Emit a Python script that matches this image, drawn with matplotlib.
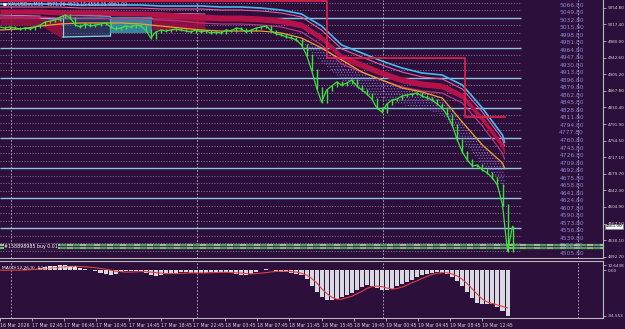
import numpy as np
import matplotlib
matplotlib.use("Agg")
import matplotlib.pyplot as plt
import matplotlib.transforms as mtransforms

BG = "#2d0f3b"
GREEN = "#3ee03e"
SKY = "#4cb8f0"
PINK = "#e0609a"
CRIMSON = "#b5124a"
MAGENTA = "#c0307a"
ORANGE = "#f0a030"
RED = "#e8204a"
LEVEL_SOLID = "#8ec4e0"
LEVEL_DOT = "#b8a8d8"
LEVEL_TXT = "#8a86d6"
AXTXT = "#d4d4d8"
HIST = "#d8d8e0"

plt.rcParams.update({"hatch.linewidth": 0.5, "font.family": "DejaVu Sans"})

# ---------------------------------------------------------------- data
# close price, one sample every 2.5 bars (M15)
close = [5011.7, 5009.4, 5011.7, 5009.4, 5007.2, 5009.4, 5007.2, 5011.7, 5016.2, 5023.0,
         5025.2, 5027.5, 5034.3, 5038.8, 5032.0, 5016.2, 5011.7, 5018.5, 5013.9, 5016.2,
         5018.5, 5020.7, 5011.7, 5007.2, 5009.4, 5013.9, 5011.7, 5016.2, 5013.9, 5004.9,
         4986.8, 5000.4, 5004.9, 5002.6, 5004.9, 5007.2, 5004.9, 5002.6, 5000.4, 5004.9,
         5000.4, 5002.6, 4998.1, 5000.4, 4998.1, 5004.9, 5002.6, 5009.4, 5007.2, 5000.4,
         5004.9, 5009.4, 5011.7, 5013.9, 5002.6, 4995.9, 4993.6, 4989.1, 4986.8, 4982.3,
         4971.0, 4948.4, 4914.5, 4873.8, 4842.2, 4869.3, 4878.3, 4887.4, 4880.6, 4885.1,
         4891.9, 4878.3, 4869.3, 4860.3, 4849.0, 4828.6, 4819.6, 4837.7, 4846.7, 4849.0,
         4855.7, 4858.0, 4860.3, 4862.5, 4855.7, 4851.2, 4846.7, 4837.7, 4828.6, 4812.8,
         4790.2, 4756.3, 4729.2, 4711.1, 4697.5, 4699.8, 4688.5, 4681.7, 4670.4, 4654.6,
         4609.4, 4505.0, 4561.0]

# moving-average ribbon, sampled every 10 bars
band_x = [0, 10, 20, 30, 40, 50, 60, 70, 80, 90, 100, 110, 120, 130, 140, 150, 160,
          170, 180, 190, 200, 210, 220, 230, 240, 250, 251]
blue_line = [5063.7, 5063.7, 5063.7, 5063.7, 5061.4, 5061.4, 5061.4, 5061.4, 5059.1,
             5059.1, 5059.1, 5056.9, 5056.9, 5054.6, 5050.1, 5041.1, 5013.9, 4971.0,
             4952.9, 4934.8, 4919.0, 4907.7, 4903.2, 4880.6, 4828.6, 4767.6, 4751.8]
pink_line = [5056.9, 5056.9, 5056.9, 5056.9, 5054.6, 5054.6, 5054.6, 5054.6, 5052.4,
             5052.4, 5052.4, 5050.1, 5050.1, 5047.8, 5043.3, 5034.3, 5004.9, 4962.0,
             4943.9, 4925.8, 4910.0, 4898.7, 4894.2, 4871.6, 4819.6, 4758.6, 4742.7]
ribbon_hi = [5052.4, 5052.4, 5052.4, 5050.1, 5050.1, 5050.1, 5047.8, 5047.8, 5045.6,
             5043.3, 5041.1, 5038.8, 5038.8, 5036.5, 5032.0, 5023.0, 4993.6, 4950.7,
             4932.6, 4914.5, 4898.7, 4889.6, 4885.1, 4862.5, 4810.5, 4749.5, 4733.7]
ribbon_lo = [5041.1, 5041.1, 5041.1, 5038.8, 5038.8, 5038.8, 5036.5, 5036.5, 5034.3,
             5032.0, 5027.5, 5025.2, 5025.2, 5023.0, 5018.5, 5009.4, 4980.0, 4937.1,
             4919.0, 4900.9, 4885.1, 4876.1, 4871.6, 4849.0, 4796.9, 4736.0, 4722.4]
magenta_line = [5034.3, 5034.3, 5034.3, 5032.0, 5032.0, 5032.0, 5029.8, 5029.8, 5027.5,
                5025.2, 5020.7, 5018.5, 5018.5, 5016.2, 5011.7, 5000.4, 4971.0, 4928.1,
                4910.0, 4891.9, 4876.1, 4867.0, 4862.5, 4839.9, 4787.9, 4726.9, 4713.4]
orange_line = [5004.9, 5007.2, 5013.9, 5018.5, 5020.7, 5020.7, 5020.7, 5018.5, 5013.9,
               5009.4, 5004.9, 5002.6, 5002.6, 5002.6, 4998.1, 4986.8, 4964.2, 4937.1,
               4910.0, 4891.9, 4873.8, 4864.8, 4851.2, 4796.9, 4745.0, 4704.3, 4693.0]
# dotted lower band (from bar 150 on)
lower_x = [150, 160, 170, 180, 190, 200, 210, 220, 230, 240, 250, 251]
lower_top = [4986.8, 4964.2, 4937.1, 4910.0, 4891.9, 4873.8, 4864.8, 4851.2, 4796.9,
             4745.0, 4704.3, 4693.0]
lower_bot = [4971.0, 4932.6, 4891.9, 4864.8, 4846.7, 4835.4, 4828.6, 4812.8, 4756.3,
             4699.8, 4654.6, 4643.3]

# cloud boxes at the start of the chart
cloud_x0 = [0, 19.9, 31.3, 54.7, 75.6]
cloud_x1 = [19.9, 30.8, 54.7, 75.6, 102.0]
cloud_hi0 = [5038.8, 5032.0, 5038.8, 5034.3, 5043.3]
cloud_hi1 = [5036.5, 5027.5, 5036.5, 5034.3, 5041.1]
cloud_lo0 = [5016.2, 5016.2, 4989.1, 4998.1, 5004.9]
cloud_lo1 = [5016.2, 4986.8, 4991.3, 4998.1, 5002.6]
cloud_kind = ["bear", "bear", "bull_open", "bull", "bear"]

# trailing stop steps
stop_x = [0, 162.7, 231.3, 251.2]
stop_v = [5070.5, 4941.0, 4808.0, 4808.0]

levels = [5066.8, 5049.8, 5032.8, 5015.8, 4998.8, 4981.8, 4964.8, 4947.8, 4930.8,
          4913.8, 4896.8, 4879.8, 4862.8, 4845.8, 4828.8, 4811.8, 4794.8, 4777.8,
          4760.8, 4743.8, 4726.8, 4709.8, 4692.8, 4675.8, 4658.8, 4641.8, 4624.8,
          4607.8, 4590.8, 4573.8, 4556.8, 4539.8, 4522.8, 4505.8]
solid_levels = [5032.8, 4964.8, 4896.8, 4828.8, 4760.8, 4692.8, 4624.8, 4556.8]
order_levels = [4520.0, 4511.5]

price_ticks = [5054.80, 5017.40, 4980.00, 4942.60, 4905.20, 4867.80, 4830.40, 4791.90,
               4754.50, 4717.10, 4679.70, 4642.30, 4604.90, 4567.50, 4530.10, 4492.70]
last_price = 4561.00
day_sep = [5.5, 98.0, 190.5, 287.6]

hist = [0.5, 0, -0.5, 0.5, 1, 1.5, 2, 3, 5, 7,
        8.5, 9.5, 10.6, 10.2, 9, 7, 4, 2, 0, -2,
        -5, -8, -9, -7, -4, -2, -1, -1, -2, -5,
        -9, -12, -11, -8, -6, -5, -4, -4, -5, -5,
        -6, -5, -4, -3, -3, -4, -6, -8, -10, -11,
        -8, -4, 0, 2, 1, -1, -3, -4, -5, -7,
        -10, -18, -32, -45, -56, -61, -62, -60, -56, -52,
        -48, -42, -34, -30, -32, -36, -40, -41, -38, -33,
        -28, -24, -20, -15, -10, -7, -5, -4, -5, -8,
        -14, -22, -32, -45, -58, -67, -70, -70, -71, -76,
        -84, -94.5]
signal = [0, 0, 0, 0, 0, 0.5, 1, 1.5, 2, 3,
          4, 5, 6, 7, 7.5, 8, 7.5, 7, 6, 5,
          3.5, 2, 0, -2, -3, -4, -4, -3.5, -3, -3,
          -4, -5, -6, -7, -7, -7, -6.5, -6, -5.5, -5.5,
          -5.5, -5.5, -5, -5, -4.5, -4.5, -5, -5.5, -6, -7,
          -7.5, -7, -6, -5, -3.5, -2.5, -2, -2.5, -3, -4,
          -6.5, -10, -17, -26, -38, -48, -56, -60, -60, -57,
          -54, -49, -44, -38, -34, -33, -34, -37, -39, -38,
          -35, -31, -26, -22, -17, -13, -9, -6.5, -5, -5.5,
          -8, -12, -19, -28, -39, -50, -60, -66, -69, -72,
          -75, -78]
macd_ticks = [10.6438, 0.0, -94.553]
macd_tick_labels = ["10.6438", "0.00", "-94.553"]

time_ticks = [0, 16, 32, 48, 64, 80, 96, 112, 128, 144, 160, 176, 192, 208, 224, 240]
time_labels = ["16 Mar 2026", "17 Mar 02:45", "17 Mar 06:45", "17 Mar 10:45",
               "17 Mar 14:45", "17 Mar 18:45", "17 Mar 22:45", "18 Mar 03:45",
               "18 Mar 07:45", "18 Mar 11:45", "18 Mar 15:45", "18 Mar 19:45",
               "19 Mar 00:45", "19 Mar 04:45", "19 Mar 08:45", "19 Mar 12:45"]

# ---------------------------------------------------------------- layout
W, H = 625, 329
fig = plt.figure(figsize=(W / 100, H / 100), dpi=100)
fig.patch.set_facecolor(BG)


def px_box(x0, y0, x1, y1):
    return [x0 / W, 1 - y1 / H, (x1 - x0) / W, (y1 - y0) / H]


ax = fig.add_axes(px_box(0, 0, 603, 258))
mx = fig.add_axes(px_box(0, 261, 603, 318))
for a in (ax, mx):
    a.set_facecolor(BG)
    a.set_xlim(0, 300)
    for s in ("left", "top"):
        a.spines[s].set_visible(False)
    for s in ("right", "bottom"):
        a.spines[s].set_color("#b8b8c0")
        a.spines[s].set_linewidth(0.8)
mx.spines["top"].set_visible(True)
mx.spines["top"].set_color("#b8b8c0")
mx.spines["top"].set_linewidth(0.8)
ax.set_ylim(4489.6, 5072.7)

# levels
xl_end = 259
ax.hlines(levels, 0, xl_end, colors=LEVEL_DOT, linewidths=0.55, linestyles=(0, (1.5, 2)),
          alpha=0.7, zorder=1)
ax.hlines(solid_levels, 0, xl_end, colors=LEVEL_SOLID, linewidths=1.0, zorder=2)
for lv in levels:
    ax.text(290.5, lv, f"{lv:.2f}", color=LEVEL_TXT, fontsize=4.3, ha="right",
            va="top", zorder=2)

# clouds
for x0, x1, h0, h1, l0, l1, k in zip(cloud_x0, cloud_x1, cloud_hi0, cloud_hi1,
                                     cloud_lo0, cloud_lo1, cloud_kind):
    xs = [x0, x1]
    if k == "bear":
        ax.fill_between(xs, [l0, l1], [h0, h1], color="#9e1040", alpha=0.85, lw=0, zorder=2)
        ax.plot(xs, [h0, h1], color="#d0a0c8", lw=0.6, zorder=2)
    elif k == "bull":
        ax.fill_between(xs, [l0, l1], [h0, h1], color="#3a98b0", alpha=0.85, lw=0, zorder=2)
    else:
        ax.fill_between(xs, [l0, l1], [h0, h1], color="#2e5a80", alpha=0.45, lw=0, zorder=2)
        ax.plot(xs, [h0, h1], color="#7fd8f0", lw=0.9, zorder=2)
        ax.plot(xs, [l0, l1], color="#7fd8f0", lw=0.9, zorder=2)
        ax.vlines(xs, [l0, l1], [h0, h1], colors="#7fd8f0", lw=0.9, zorder=2)

# dotted lower band
ax.fill_between(lower_x, lower_bot, lower_top, facecolor="none", edgecolor="#8a6cc8",
                hatch="......", lw=0, zorder=2)

# ribbon
ax.fill_between(band_x, ribbon_lo, ribbon_hi, color=CRIMSON, lw=0, zorder=3)
ax.plot(band_x, blue_line, color=SKY, lw=1.2, zorder=4)
ax.plot(band_x, pink_line, color=PINK, lw=0.8, zorder=4)
ax.plot(band_x, magenta_line, color=MAGENTA, lw=0.9, zorder=4)
ax.plot(band_x, orange_line, color=ORANGE, lw=0.9, zorder=4)

# trailing stop
ax.step(stop_x, stop_v, where="post", color=RED, lw=1.2, zorder=5)

# price bars
cx = np.arange(len(close)) * 2.5
c = np.array(close)
ax.vlines(cx[1:], np.minimum(c[:-1], c[1:]) - 2, np.maximum(c[:-1], c[1:]) + 2,
          colors=GREEN, lw=1.0, zorder=6)
ax.plot(cx, c, color=GREEN, lw=0.9, zorder=6)

# order lines
for lv, col in zip(order_levels, ["#a8b0a8", "#6fbf6f"]):
    ax.hlines(lv, 0, 300, colors=col, lw=1.6, linestyles=(0, (3, 3)), zorder=5)
    ax.hlines(lv, 0, 300, colors="#5a9a6a", lw=1.6, linestyles=(3, (3, 3)), zorder=5)
ax.text(2, 4515.5, "#158898985 buy 0.01", fontsize=3.4, color="white", va="center",
        zorder=7, bbox=dict(facecolor=BG, edgecolor="none", pad=0.3))

# separators
for d in day_sep:
    for a in (ax, mx):
        a.axvline(d, color="#e0e0e8", lw=0.6, ls=(0, (2, 2)), alpha=0.8, zorder=1)

# right price axis
ax.yaxis.tick_right()
ax.set_yticks(price_ticks)
ax.set_yticklabels([f"{t:.2f}" for t in price_ticks])
ax.tick_params(axis="y", length=2, width=0.5, pad=1.2, labelsize=3.0, colors=AXTXT)
ax.set_xticks([])
trans = mtransforms.blended_transform_factory(ax.transAxes, ax.transData)
ax.text(1.005, last_price, f"{last_price:.2f}", transform=trans, fontsize=3.0,
        color="black", va="center", ha="left", zorder=8,
        bbox=dict(facecolor="white", edgecolor="#808080", pad=0.4, lw=0.4))

# header
ax.text(0.004, 0.988, "\u25a0", transform=ax.transAxes, fontsize=3, color="white",
        va="top", ha="left", zorder=8)
ax.text(0.014, 0.992, "XAUUSDm,M15  4571.26 4573.15 4558.05 4561.00", transform=ax.transAxes,
        fontsize=3.3, color="#c8c8e8", va="top", ha="left", zorder=8)

# MACD
mx.set_ylim(-99, 19)
hx = np.arange(len(hist)) * 2.5
mx.bar(hx, hist, width=2.0, color=HIST, lw=0, zorder=3)
mx.plot(hx, signal, color="#e04040", lw=0.8, zorder=4)
mx.yaxis.tick_right()
mx.set_yticks(macd_ticks)
mx.set_yticklabels(macd_tick_labels)
mx.tick_params(axis="y", length=2, width=0.5, pad=1.2, labelsize=3.0, colors=AXTXT)
mx.text(0.003, 0.92, "MACD(12,26,9) -51.1800 -49.4997", transform=mx.transAxes,
        fontsize=3.2, color="white", va="top", ha="left", zorder=8)

mx.set_xticks(time_ticks)
mx.set_xticklabels(time_labels)
mx.tick_params(axis="x", length=2, width=0.5, pad=1.5, labelsize=3.3, colors=AXTXT)
for lbl in mx.get_xticklabels():
    lbl.set_ha("left")

fig.savefig("out.png", dpi=100, facecolor=BG)
